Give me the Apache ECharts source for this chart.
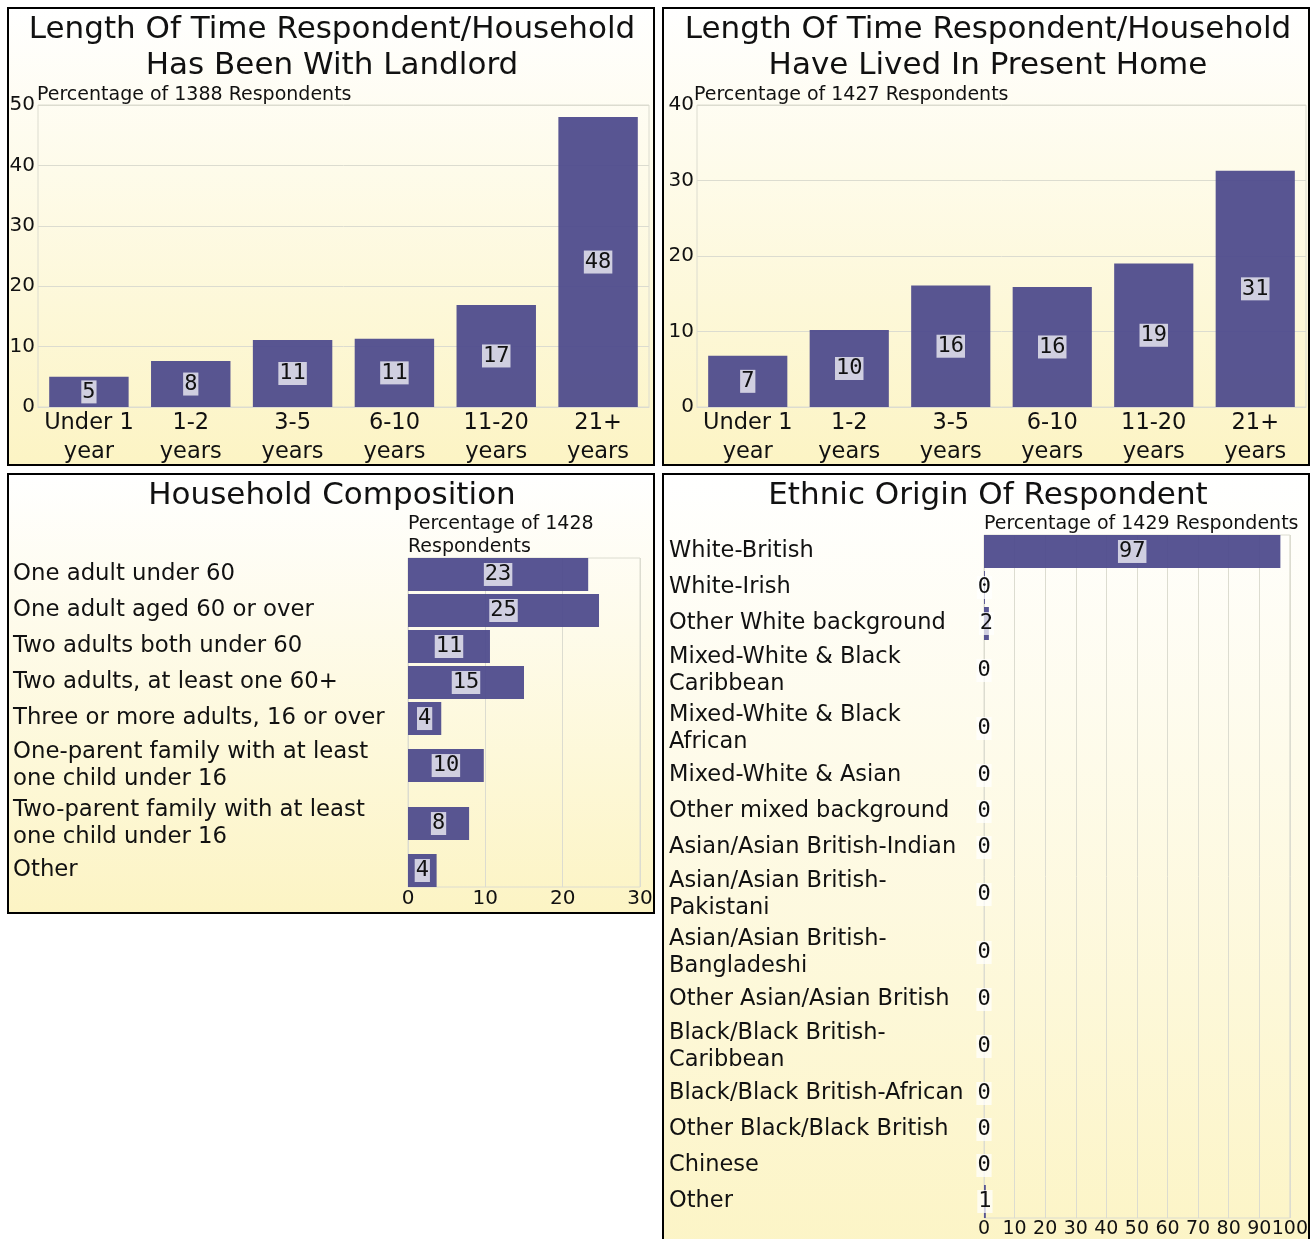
<!DOCTYPE html>
<html>
<head>
<meta charset="utf-8">
<script src="https://cdn.jsdelivr.net/npm/echarts@6/dist/echarts.min.js"></script>
<style>
html,body{margin:0;padding:0;background:#fff;}
#c{width:1311px;height:1239px;}
</style>
</head>
<body>
<div id="c"></div>
<script>
// ---- Data ----
const title1 = 'Length Of Time Respondent/Household\nHas Been With Landlord';
const subtitle1 = 'Percentage of 1388 Respondents';
const cats1 = ['Under 1\nyear', '1-2\nyears', '3-5\nyears', '6-10\nyears', '11-20\nyears', '21+\nyears'];
const vals1 = [5.0, 7.6, 11.1, 11.3, 16.9, 48.0];
const yMax1 = 50;

const title2 = 'Length Of Time Respondent/Household\nHave Lived In Present Home';
const subtitle2 = 'Percentage of 1427 Respondents';
const cats2 = ['Under 1\nyear', '1-2\nyears', '3-5\nyears', '6-10\nyears', '11-20\nyears', '21+\nyears'];
const vals2 = [6.8, 10.2, 16.1, 15.9, 19.0, 31.3];
const yMax2 = 40;

const title3 = 'Household Composition';
const subtitle3 = 'Percentage of 1428\nRespondents';
const cats3 = ['One adult under 60', 'One adult aged 60 or over', 'Two adults both under 60',
  'Two adults, at least one 60+', 'Three or more adults, 16 or over',
  'One-parent family with at least\none child under 16', 'Two-parent family with at least\none child under 16', 'Other'];
const vals3 = [23.3, 24.7, 10.6, 15.0, 4.3, 9.8, 7.9, 3.7];
const xMax3 = 30;

const title4 = 'Ethnic Origin Of Respondent';
const subtitle4 = 'Percentage of 1429 Respondents';
const cats4 = ['White-British', 'White-Irish', 'Other White background', 'Mixed-White & Black\nCaribbean',
  'Mixed-White & Black\nAfrican', 'Mixed-White & Asian', 'Other mixed background', 'Asian/Asian British-Indian',
  'Asian/Asian British-\nPakistani', 'Asian/Asian British-\nBangladeshi', 'Other Asian/Asian British',
  'Black/Black British-\nCaribbean', 'Black/Black British-African', 'Other Black/Black British', 'Chinese', 'Other'];
const vals4 = [96.9, 0.3, 1.6, 0, 0, 0, 0, 0, 0, 0, 0, 0, 0, 0, 0, 0.6];
const xMax4 = 100;

// ---- Styles ----
const SANS = 'DejaVu Sans';
const MONO = 'DejaVu Sans Mono';
const BAR = 'rgba(78,74,140,0.94)';
const GRIDC = '#dcdcd0';
const TXT = '#111';
const LBLBG = 'rgba(255,255,255,0.72)';

// band layout for horizontal charts: taller bands for two-line labels
const EDGE = 0.07;
function bands(cats) {
  let acc = 0; const centers = [];
  cats.forEach(c => { const w = c.split('\n').length + 0.64; centers.push(acc + w / 2); acc += w; });
  return { centers, total: acc };
}
const b3 = bands(cats3), b4 = bands(cats4);
function labelAt(b, cats, v) {
  for (let i = 0; i < b.centers.length; i++) if (Math.abs(b.centers[i] - v) < 1e-6) return cats[i];
  return '';
}

function hbar(params, api) {
  const v = api.value(0), c = api.value(1);
  const a = api.coord([0, c]), e = api.coord([v, c]);
  const h = 33;
  return {
    type: 'group',
    children: [
      { type: 'rect', shape: { x: a[0], y: a[1] - h / 2, width: e[0] - a[0], height: h }, style: { fill: BAR } },
      { type: 'text', x: (a[0] + e[0]) / 2, y: a[1], z2: 10,
        style: { text: String(Math.round(v)), fontSize: 22, fontFamily: MONO, fill: TXT,
          align: 'center', verticalAlign: 'middle', backgroundColor: LBLBG, padding: [1, 1, 0, 1] } }
    ]
  };
}

const barLabel = {
  show: true, position: 'inside', formatter: p => String(Math.round(p.value)),
  fontFamily: MONO, fontSize: 22, color: TXT, backgroundColor: LBLBG, padding: [1, 1, 0, 1],
  textBorderWidth: 0
};

function panel(x, y, w, h) {
  return [
    { type: 'rect', z: -100, shape: { x, y, width: w, height: h },
      style: { fill: new echarts.graphic.LinearGradient(0, 0, 0, 1, [
        { offset: 0, color: '#ffffff' }, { offset: 1, color: '#fcf4c4' }]) } },
    { type: 'rect', z: 100, shape: { x, y, width: w, height: h },
      style: { fill: 'none', stroke: '#000', lineWidth: 2 } }
  ];
}

const titleStyle = { fontFamily: SANS, fontSize: 31, fontWeight: 'normal', color: TXT, lineHeight: 36 };
const subStyle = { fontFamily: SANS, fontSize: 19, fontWeight: 'normal', color: TXT, lineHeight: 23 };

const chart = echarts.init(document.getElementById('c'), null, { renderer: 'canvas' });
chart.setOption({
  animation: false,
  textStyle: { fontFamily: SANS },
  graphic: [].concat(panel(8, 8, 646, 457), panel(663, 8, 646, 457), panel(8, 474, 646, 439), panel(663, 474, 646, 800)),
  title: [
    { text: title1, left: 332, top: 12, textAlign: 'center', padding: 0, textStyle: titleStyle },
    { text: subtitle1, left: 37, top: 84, padding: 0, textStyle: subStyle },
    { text: title2, left: 988, top: 12, textAlign: 'center', padding: 0, textStyle: titleStyle },
    { text: subtitle2, left: 694, top: 84, padding: 0, textStyle: subStyle },
    { text: title3, left: 332, top: 478, textAlign: 'center', padding: 0, textStyle: titleStyle },
    { text: subtitle3, left: 408, top: 513, padding: 0, textStyle: subStyle },
    { text: title4, left: 988, top: 478, textAlign: 'center', padding: 0, textStyle: titleStyle },
    { text: subtitle4, left: 984, top: 513, padding: 0, textStyle: subStyle }
  ],
  grid: [
    { left: 38, top: 105, width: 611, height: 302, show: true, borderColor: GRIDC, borderWidth: 1 },
    { left: 697, top: 105, width: 609, height: 302, show: true, borderColor: GRIDC, borderWidth: 1 },
    { left: 408, top: 558, width: 232, height: 329, show: true, borderColor: GRIDC, borderWidth: 1 },
    { left: 984, top: 535, width: 306, height: 683, show: true, borderColor: GRIDC, borderWidth: 1 }
  ],
  xAxis: [
    { gridIndex: 0, type: 'category', data: cats1, axisTick: { show: false },
      axisLine: { lineStyle: { color: GRIDC } },
      axisLabel: { interval: 0, fontSize: 22.5, lineHeight: 29, color: TXT, margin: 2 } },
    { gridIndex: 1, type: 'category', data: cats2, axisTick: { show: false },
      axisLine: { lineStyle: { color: GRIDC } },
      axisLabel: { interval: 0, fontSize: 22.5, lineHeight: 29, color: TXT, margin: 2 } },
    { gridIndex: 2, type: 'value', min: 0, max: xMax3, interval: 10,
      axisLine: { show: false }, axisTick: { show: false },
      splitLine: { lineStyle: { color: GRIDC } },
      axisLabel: { fontSize: 20, color: TXT, margin: 2, showMaxLabel: true, showMinLabel: true } },
    { gridIndex: 3, type: 'value', min: 0, max: xMax4, interval: 10,
      axisLine: { show: false }, axisTick: { show: false },
      splitLine: { lineStyle: { color: GRIDC } },
      axisLabel: { fontSize: 19, color: TXT, margin: 2, showMaxLabel: true, showMinLabel: true } }
  ],
  yAxis: [
    { gridIndex: 0, type: 'value', min: 0, max: yMax1, interval: 10,
      axisLine: { show: false }, axisTick: { show: false },
      splitLine: { lineStyle: { color: GRIDC } },
      axisLabel: { fontSize: 20, color: TXT, margin: 3, showMaxLabel: true } },
    { gridIndex: 1, type: 'value', min: 0, max: yMax2, interval: 10,
      axisLine: { show: false }, axisTick: { show: false },
      splitLine: { lineStyle: { color: GRIDC } },
      axisLabel: { fontSize: 20, color: TXT, margin: 3, showMaxLabel: true } },
    { gridIndex: 2, type: 'value', inverse: true, min: EDGE, max: b3.total - EDGE,
      axisLine: { show: false }, axisTick: { show: false }, splitLine: { show: false },
      axisLabel: { customValues: b3.centers, formatter: v => labelAt(b3, cats3, v),
        align: 'left', margin: 395, fontSize: 22.8, lineHeight: 27, color: TXT, padding: [4, 0, 0, 0] } },
    { gridIndex: 3, type: 'value', inverse: true, min: EDGE, max: b4.total - EDGE,
      axisLine: { show: false }, axisTick: { show: false }, splitLine: { show: false },
      axisLabel: { customValues: b4.centers, formatter: v => labelAt(b4, cats4, v),
        align: 'left', margin: 315, fontSize: 22.5, lineHeight: 27, color: TXT, padding: [6, 0, 0, 0] } }
  ],
  series: [
    { type: 'bar', xAxisIndex: 0, yAxisIndex: 0, data: vals1, barCategoryGap: '22%',
      itemStyle: { color: BAR }, label: barLabel },
    { type: 'bar', xAxisIndex: 1, yAxisIndex: 1, data: vals2, barCategoryGap: '22%',
      itemStyle: { color: BAR }, label: barLabel },
    { type: 'custom', xAxisIndex: 2, yAxisIndex: 2, renderItem: hbar, clip: false,
      encode: { x: 0, y: 1 }, data: vals3.map((v, i) => [v, b3.centers[i]]) },
    { type: 'custom', xAxisIndex: 3, yAxisIndex: 3, renderItem: hbar, clip: false,
      encode: { x: 0, y: 1 }, data: vals4.map((v, i) => [v, b4.centers[i]]) }
  ]
});
</script>
</body>
</html>
